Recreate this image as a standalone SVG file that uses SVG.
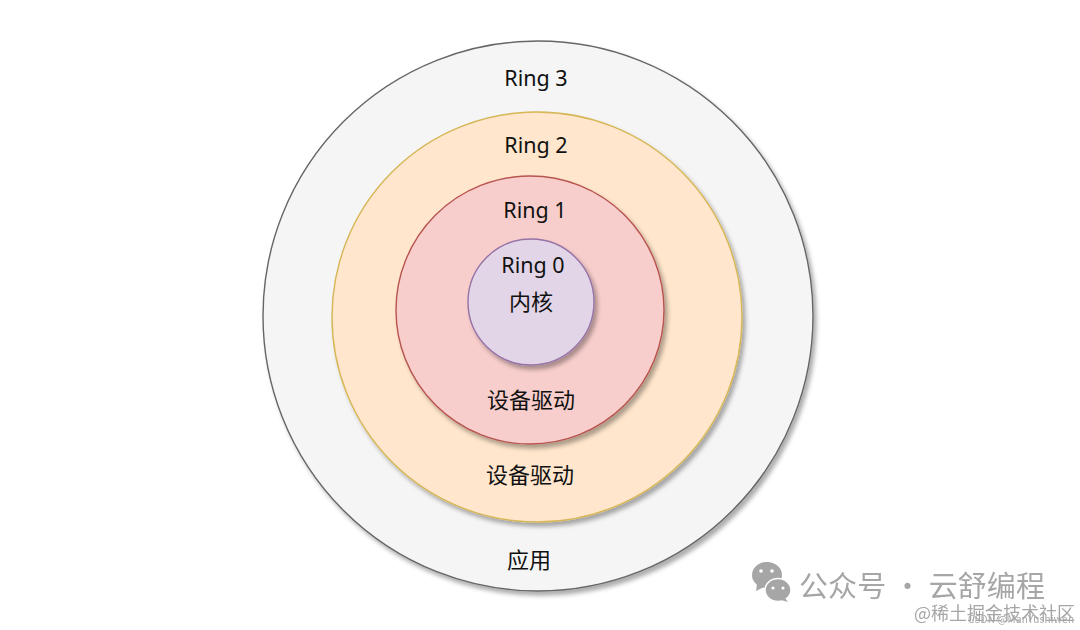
<svg xmlns="http://www.w3.org/2000/svg" width="1080" height="630" viewBox="0 0 1080 630">
<defs>
<filter id="sh" x="-10%" y="-10%" width="125%" height="125%"><feDropShadow dx="3" dy="4" stdDeviation="2" flood-color="#000" flood-opacity="0.32"/></filter>
<filter id="soft" x="-5%" y="-20%" width="110%" height="140%"><feGaussianBlur stdDeviation="0.6"/></filter>
</defs>
<style>
.ring{font:21.5px "Noto Sans","DejaVu Sans",sans-serif;fill:#111;text-anchor:middle}
.cn{font:22px "Noto Sans CJK SC",sans-serif;fill:#111;text-anchor:middle}
.wm{font-family:"Noto Sans CJK SC",sans-serif;fill:#a6a6a6}
.c{filter:url(#sh);stroke-width:1.4}
.d{fill:#fff}
</style>
<rect width="1080" height="630" fill="#fff"/>
<g id="ring3"><circle class="c" cx="538" cy="316" r="275" fill="#f5f5f5" stroke="#666"/><text class="ring" x="536" y="86">Ring 3</text><text class="cn" x="529" y="568">应用</text></g>
<g id="ring2"><circle class="c" cx="537" cy="317" r="205" fill="#ffe6cc" stroke="#d6b656"/><text class="ring" x="536" y="153">Ring 2</text><text class="cn" x="530" y="483">设备驱动</text></g>
<g id="ring1"><circle class="c" cx="530" cy="310" r="134" fill="#f8cecc" stroke="#b85450"/><text class="ring" x="535" y="218">Ring 1</text><text class="cn" x="531" y="408">设备驱动</text></g>
<g id="ring0"><circle class="c" cx="531" cy="302" r="63" fill="#e1d5e7" stroke="#9673a6"/><text class="ring" x="533" y="273">Ring 0</text><text class="cn" x="531" y="310">内核</text></g>
<g id="watermark" filter="url(#soft)">
<ellipse cx="767" cy="575" rx="15" ry="13" fill="#a6a6a6"/><path d="M757 584l-1 7 8-4z" fill="#a6a6a6"/>
<ellipse cx="778" cy="590" rx="13" ry="11.5" fill="#a6a6a6" stroke="#fff" stroke-width="1.5"/><path d="M785 598l3 4-7-2z" fill="#a6a6a6"/>
<circle class="d" cx="761" cy="571" r="1.8"/><circle class="d" cx="772" cy="571" r="1.8"/>
<circle class="d" cx="773" cy="588" r="1.6"/><circle class="d" cx="783" cy="588" r="1.6"/>
<text class="wm" x="799" y="597" font-size="29" textLength="246">公众号 · 云舒编程</text>
<text class="wm" x="914" y="620" font-size="18">@稀土掘金技术社区</text>
<text class="wm" x="968" y="623" font-size="10" textLength="106">CSDN @ManYushiwen</text>
</g>
</svg>
